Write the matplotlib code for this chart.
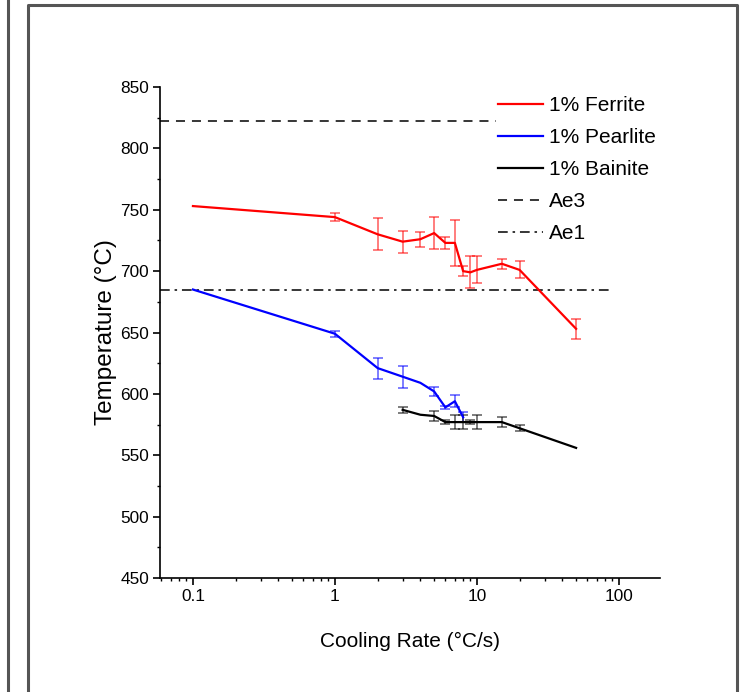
import matplotlib
matplotlib.use("Agg")
import matplotlib.pyplot as plt
from matplotlib.lines import Line2D
from matplotlib.ticker import MultipleLocator, FixedLocator, NullFormatter

plt.rcParams['font.family'] = ['Liberation Sans', 'DejaVu Sans']
plt.rcParams['lines.scale_dashes'] = False

# 1% Ferrite
ferrite_rate = [0.1, 1, 2, 3, 4, 5, 6, 7, 8, 9, 10, 15, 20, 50]
ferrite_temp = [753, 744, 730, 724, 726, 731, 723, 723, 700, 699, 701, 706, 701, 653]
ferrite_err = [0, 3, 13, 9, 6, 13, 5, 19, 4, 13, 11, 4, 7, 8]

# 1% Pearlite
pearlite_rate = [0.1, 1, 2, 3, 4, 5, 6, 7, 8]
pearlite_temp = [685, 649, 621, 614, 609, 602, 589, 594, 581]
pearlite_err = [0, 2.5, 8.5, 9, 0, 3.5, 1, 5, 4]

# 1% Bainite
bainite_rate = [3, 4, 5, 6, 7, 8, 9, 10, 15, 20, 50]
bainite_temp = [587, 583, 582, 577, 577, 577, 577, 577, 577, 572, 556]
bainite_err = [2.4, 0, 4, 1.5, 5.8, 5.6, 1.5, 5.8, 4, 2.4, 0]

# critical temperatures
ae3 = 822
ae1 = 685
ae_span = [0.0586, 90]

fig = plt.figure(figsize=(7.43, 6.92), dpi=100)

# panel frames from the source figure
fig.add_artist(Line2D([8/743, 8/743], [0, 1], transform=fig.transFigure,
                      color='#555555', lw=2.2))
fx0, fx1, fy1 = 28/743, 737/743, 1 - 5/692
fig.add_artist(Line2D([fx0, fx0, fx1, fx1], [0, fy1, fy1, 0],
                      transform=fig.transFigure, color='#555555', lw=2.2))

ax = fig.add_axes([160/743, 1 - 578/692, 500/743, 491/692])

series = [
    (ferrite_rate, ferrite_temp, ferrite_err, '#ff0000', '1% Ferrite'),
    (pearlite_rate, pearlite_temp, pearlite_err, '#0000ff', '1% Pearlite'),
    (bainite_rate, bainite_temp, bainite_err, '#000000', '1% Bainite'),
]
for x, y, e, c, lab in series:
    # only points that have a measured spread get an error bar
    xe = [a for a, b in zip(x, e) if b > 0]
    ye = [a for a, b in zip(y, e) if b > 0]
    ee = [b for b in e if b > 0]
    ax.errorbar(xe, ye, yerr=ee, fmt='none', ecolor=c, alpha=0.55,
                elinewidth=1.3, capsize=3.3, capthick=1.3)
    ax.plot(x, y, color=c, lw=1.6, label=lab, zorder=3)

ax.plot(ae_span, [ae3, ae3], color='black', lw=1.1, ls=(0, (6.5, 5)), label='Ae3')
ax.plot(ae_span, [ae1, ae1], color='black', lw=1.1, ls=(0, (7, 3.5, 1.8, 3.5)), label='Ae1')

ax.set_xscale('log')
ax.set_xlim(0.0586, 195)
ax.set_ylim(450, 850)
ax.yaxis.set_major_locator(MultipleLocator(50))
ax.yaxis.set_minor_locator(MultipleLocator(25))
ax.xaxis.set_major_locator(FixedLocator([0.1, 1, 10, 100]))
ax.set_xticklabels(['0.1', '1', '10', '100'])
ax.xaxis.set_minor_formatter(NullFormatter())

for s in ['top', 'right']:
    ax.spines[s].set_visible(False)
for s in ['left', 'bottom']:
    ax.spines[s].set_linewidth(1.2)
ax.tick_params(which='major', direction='out', length=5, width=1.2, labelsize=12.4, pad=3)
ax.tick_params(which='minor', direction='out', length=2.5, width=1.0)

ax.set_xlabel('Cooling Rate (°C/s)', fontsize=15, labelpad=20)
ax.set_ylabel('Temperature (°C)', fontsize=17.5, labelpad=2)

leg = ax.legend(loc='upper left', bbox_to_anchor=(0.671, 0.985), fontsize=15,
                frameon=True, framealpha=1, edgecolor='none', facecolor='white',
                fancybox=False, borderpad=0.1, handlelength=2.2, handletextpad=0.25,
                labelspacing=0.62, borderaxespad=0)

fig.savefig('out.png', dpi=100)
